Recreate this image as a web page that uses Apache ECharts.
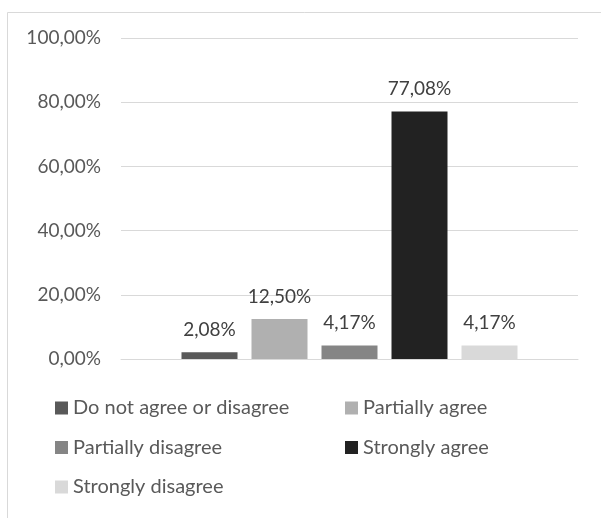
<!DOCTYPE html>
<html>
<head>
<meta charset="utf-8">
<script src="https://cdn.jsdelivr.net/npm/echarts@6/dist/echarts.min.js"></script>
<style>
  html, body { margin: 0; padding: 0; background: #fff; }
  #chart { width: 601px; height: 518px; }
</style>
</head>
<body>
<div id="chart"></div>
<script>
// Survey responses, share of respondents per answer
const seriesNames = ['Do not agree or disagree', 'Partially agree', 'Partially disagree', 'Strongly agree', 'Strongly disagree'];
const seriesValues = [2.08, 12.50, 4.17, 77.08, 4.17];
const seriesColors = ['#595959', '#b0b0b0', '#858585', '#222222', '#d9d9d9'];
const yTicks = [0, 20, 40, 60, 80, 100];

const fmt = v => v.toFixed(2).replace('.', ',') + '%';
const fontFamily = 'Lato, "Open Sans", sans-serif';

const chart = echarts.init(document.getElementById('chart'), null, { renderer: 'canvas' });

const series = seriesNames.map((name, i) => ({
  name,
  type: 'bar',
  data: [seriesValues[i]],
  barWidth: 56,
  barGap: '25%',
  itemStyle: { color: seriesColors[i] },
  label: {
    show: true,
    position: 'top',
    distance: 13,
    formatter: p => fmt(p.value),
    color: '#404040',
    fontSize: 19,
    fontFamily
  }
}));

const legendText = { color: '#595959', fontSize: 20, fontFamily, lineHeight: 24 };

chart.setOption({
  animation: false,
  backgroundColor: '#ffffff',
  graphic: [{
    type: 'rect',
    shape: { x: 7.5, y: 12.5, width: 640, height: 560 },
    style: { fill: 'none', stroke: '#d9d9d9', lineWidth: 1 },
    silent: true
  }],
  grid: { left: 121, right: 23, top: 38, bottom: 159, containLabel: false },
  xAxis: {
    type: 'category',
    data: [''],
    axisLine: { show: true, lineStyle: { color: '#d9d9d9' } },
    axisTick: { show: false },
    axisLabel: { show: false }
  },
  yAxis: {
    type: 'value',
    min: yTicks[0],
    max: yTicks[yTicks.length - 1],
    interval: yTicks[1] - yTicks[0],
    axisLine: { show: false },
    axisTick: { show: false },
    splitLine: { lineStyle: { color: '#d9d9d9' } },
    axisLabel: {
      formatter: v => fmt(v),
      color: '#595959',
      fontSize: 19,
      fontFamily,
      margin: 20
    }
  },
  legend: [
    {
      data: [seriesNames[0], seriesNames[2], seriesNames[4]],
      orient: 'vertical',
      left: 50,
      top: 391,
      itemWidth: 13,
      itemHeight: 13,
      itemGap: 15.5,
      icon: 'rect',
      textStyle: legendText,
      selectedMode: false
    },
    {
      data: [seriesNames[1], seriesNames[3]],
      orient: 'vertical',
      left: 340,
      top: 391,
      itemWidth: 13,
      itemHeight: 13,
      itemGap: 15.5,
      icon: 'rect',
      textStyle: legendText,
      selectedMode: false
    }
  ],
  series
});
</script>
</body>
</html>
